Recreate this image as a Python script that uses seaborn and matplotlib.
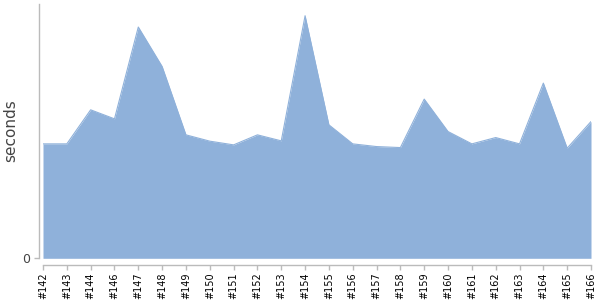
import matplotlib
matplotlib.use("Agg")
import matplotlib.pyplot as plt
import seaborn as sns
import numpy as np
import pandas as pd

builds = ["#142", "#143", "#144", "#146", "#147", "#148", "#149", "#150", "#151",
          "#152", "#153", "#154", "#155", "#156", "#157", "#158", "#159", "#160",
          "#161", "#162", "#163", "#164", "#165", "#166"]
seconds = [11.43, 11.43, 14.83, 13.93, 23.10, 19.16, 12.33, 11.70, 11.33,
           12.33, 11.73, 24.23, 13.33, 11.43, 11.16, 11.06, 15.90, 12.66,
           11.43, 12.06, 11.43, 17.50, 11.00, 13.66]

sns.set_style("white")
plt.rcParams['font.family'] = ['DejaVu Sans']

df = pd.DataFrame({"pos": np.arange(len(builds)), "seconds": seconds})
color = "#8FB1DA"

fig = plt.figure(figsize=(6, 3), dpi=100)
ax = fig.add_axes([43 / 600, (300 - 258.3) / 300, (591 - 43) / 600, (258.3 - 4) / 300])
sns.lineplot(data=df, x="pos", y="seconds", ax=ax, color=color, linewidth=0.8)
ax.fill_between(df["pos"], 0, df["seconds"], color=color, linewidth=0)

ax.set_xlim(0, len(builds) - 1)
ax.set_ylim(0, 25.4)
for s in ["top", "right"]:
    ax.spines[s].set_visible(False)
ax.spines["left"].set_position(("outward", 3))
ax.spines["bottom"].set_position(("outward", 5))
for s in ["left", "bottom"]:
    ax.spines[s].set_color("#BBBBBB")
    ax.spines[s].set_linewidth(1)
ax.tick_params(axis="both", which="both", length=3.5, width=1, color="#BBBBBB",
               bottom=True, left=True, pad=1.5)

ax.set_xticks(df["pos"])
ax.set_xticklabels(builds, fontsize=7, color="black")
ax.tick_params(axis="x", labelrotation=90)
ax.set_yticks([0])
ax.set_yticklabels(["0"], fontsize=9, color="#444444")
ax.tick_params(axis="y", pad=3)
ax.set_xlabel("")
ax.set_ylabel("seconds", fontsize=11, color="#444444")
ax.yaxis.set_label_coords((18 - 43) / 548, 0.504)

fig.savefig("out.png", dpi=100)
